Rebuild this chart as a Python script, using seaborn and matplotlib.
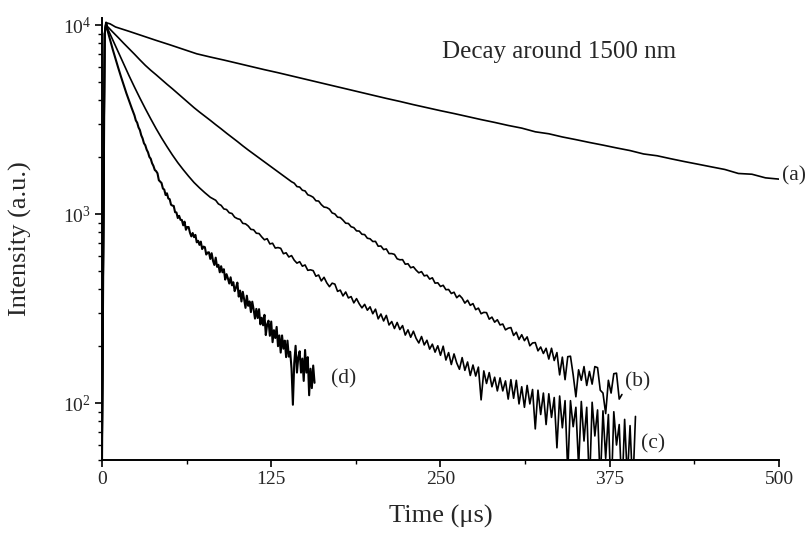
import matplotlib
matplotlib.use("Agg")
import matplotlib.pyplot as plt
import matplotlib.ticker as mticker
import numpy as np
import pandas as pd
import seaborn as sns

# ---------------- data ----------------
a_time = [0, 2, 3, 6, 10, 20, 30, 40, 50, 60, 70, 80, 90, 100, 110, 120, 130, 140, 150,
          160, 170, 180, 190, 200, 210, 220, 230, 240, 250, 260, 270, 280, 290, 300,
          310, 320, 330, 340, 350, 360, 370, 380, 390, 400, 410, 420, 430, 440, 450,
          460, 470, 480, 490, 500]
a_intensity = [45, 9000, 10300, 10150, 9772, 9268, 8770, 8299, 7870, 7447, 7047, 6776, 6531,
               6281, 6039, 5808, 5598, 5383, 5176, 4977, 4786, 4603, 4426, 4256, 4093, 3945,
               3793, 3656, 3524, 3404, 3281, 3162, 3055, 2944, 2850, 2725, 2660, 2559, 2477,
               2393, 2317, 2239, 2168, 2080, 2035, 1963, 1897, 1837, 1778, 1722, 1640, 1625,
               1555, 1531]

b_time = [0, 2, 3, 4, 8, 12, 16, 20, 24, 28, 32, 36, 40, 44, 48, 52, 56, 60, 64, 68, 72,
          76, 80, 84, 88, 92, 96, 100, 104, 108, 112, 116, 120, 124, 128, 132, 136, 140,
          142, 144, 146, 148, 150, 152, 154, 156, 158, 160, 162, 164, 166, 168, 170, 172,
          174, 176, 178, 180, 182, 184, 186, 188, 190, 192, 194, 196, 198, 200, 202, 204,
          206, 208, 210, 212, 214, 216, 218, 220, 222, 224, 226, 228, 230, 232, 234, 236,
          238, 240, 242, 244, 246, 248, 250, 252, 254, 256, 258, 260, 262, 264, 266, 268,
          270, 272, 274, 276, 278, 280, 282, 284, 286, 288, 290, 292, 294, 296, 298, 300,
          302, 304, 306, 308, 310, 312, 314, 316, 318, 320, 322, 324, 326, 328, 330, 332,
          334, 336, 338, 340, 342, 344, 346, 348, 350, 352, 354, 356, 358, 360, 362, 364,
          366, 368, 370, 372, 374, 376, 378, 380, 382, 384]
b_intensity = [45, 9000, 10300, 9840, 9183, 8590, 8017, 7499, 7015, 6546, 6124, 5768, 5458,
               5152, 4864, 4603, 4345, 4102, 3873, 3656, 3467, 3296, 3133, 2972, 2825, 2679,
               2547, 2421, 2296, 2183, 2080, 1982, 1888, 1799, 1714, 1633, 1556, 1483,
               1457, 1398, 1390, 1337, 1326, 1265, 1250, 1227, 1176, 1172,
               1122, 1089, 1083, 1062, 1014, 1002, 963, 959, 929, 895,
               892, 857, 848, 815, 813, 782, 779, 745, 740, 716,
               717, 676, 678, 649, 654, 618, 618, 612, 580, 573,
               574, 543, 546, 520, 526, 505, 489, 496, 471, 475,
               453, 460, 431, 433, 414, 420, 398, 399, 380, 386,
               361, 372, 359, 338, 350, 329, 336, 312, 318, 297,
               302, 301, 278, 285, 268, 276, 259, 262, 244, 249,
               251, 228, 237, 217, 230, 214, 224, 201, 208, 209,
               189, 198, 183, 195, 171, 195, 168, 185, 141, 175,
               133, 176, 177, 141, 108, 150, 132, 156, 124, 147,
               126, 156, 154, 117, 113, 88, 132, 113, 143, 144,
               105, 111]

c_time = [0, 2, 3, 4, 8, 12, 16, 20, 24, 28, 32, 36, 40, 44, 48, 52, 56, 60, 64, 68, 72,
          76, 80, 84, 86, 88, 90, 92, 94, 96, 98, 100, 102, 104, 106, 108, 110, 112, 114,
          116, 118, 120, 122, 124, 126, 128, 130, 132, 134, 136, 138, 140, 142, 144, 146,
          148, 150, 152, 154, 156, 158, 160, 162, 164, 166, 168, 170, 172, 174, 176, 178,
          180, 182, 184, 186, 188, 190, 192, 194, 196, 198, 200, 202, 204, 206, 208, 210,
          212, 214, 216, 218, 220, 222, 224, 226, 228, 230, 232, 234, 236, 238, 240, 242,
          244, 246, 248, 250, 252, 254, 256, 258, 260, 262, 264, 266, 268, 270, 272, 274,
          276, 278, 280, 282, 284, 286, 288, 290, 292, 294, 296, 298, 300, 302, 304, 306,
          308, 310, 312, 314, 316, 318, 320, 322, 324, 326, 328, 330, 332, 334, 336, 338,
          340, 342, 344, 346, 348, 350, 352, 354, 356, 358, 360, 362, 364, 366, 368, 370,
          372, 374, 376, 378, 380, 382, 384, 386, 388, 390, 392, 394]
c_intensity = [45, 9000, 10300, 9638, 8337, 7211, 6237, 5395, 4699, 4111, 3614, 3192, 2831,
               2529, 2275, 2056, 1871, 1718, 1585, 1469, 1377, 1297, 1227,
               1183, 1132, 1112, 1065, 1057, 1016, 1007, 963, 946, 937,
               893, 888, 865, 830, 826, 792, 789, 757, 731, 741,
               695, 701, 661, 665, 659, 617, 624, 593, 603, 570,
               550, 560, 530, 538, 504, 507, 502, 469, 476, 443,
               463, 433, 413, 431, 426, 390, 396, 369, 387, 360,
               366, 339, 357, 335, 319, 333, 310, 323, 297, 314,
               279, 296, 272, 291, 259, 270, 248, 267, 245, 257,
               229, 244, 223, 240, 220, 208, 225, 203, 215, 193,
               205, 186, 201, 179, 200, 169, 185, 160, 182, 163,
               151, 174, 149, 165, 140, 159, 139, 155, 104, 148,
               127, 145, 122, 137, 116, 136, 116, 131, 105, 133,
               106, 132, 99, 122, 95, 124, 99, 118, 73, 117,
               87, 113, 77, 112, 84, 107, 58, 109, 74, 103,
               43, 103, 75, 95, 46, 102, 63, 95, 35, 101,
               67, 92, 37, 91, 51, 87, 31, 90, 60, 77,
               33, 82, 40, 76, 35, 85]

d_time = [0, 2, 3, 4, 6, 8, 10, 12, 14, 16, 18, 20, 22,
          24, 25, 26, 27, 28, 29, 30, 31, 32, 33, 34, 35, 36, 37, 38, 39, 40, 41, 42, 43,
          44, 45, 46, 47, 48, 49, 50, 51, 52, 53, 54, 55, 56, 57, 58, 59, 60, 61, 62, 63,
          64, 65, 66, 67, 68, 69, 70, 71, 72, 73, 74, 75, 76, 77, 78, 79, 80, 81, 82, 83,
          84, 85, 86, 87, 88, 89, 90, 91, 92, 93, 94, 95, 96, 97, 98, 99, 100, 101, 102,
          103, 104, 105, 106, 107, 108, 109, 110, 111, 112, 113, 114, 115, 116, 117, 118,
          119, 120, 121, 122, 123, 124, 125, 126, 127, 128, 129, 130, 131, 132, 133, 134,
          135, 136, 137, 138, 139, 140, 141, 142, 143, 144, 145, 146, 147, 148, 149, 150,
          151, 152, 153, 154, 155, 156, 157]
d_intensity = [45, 9000, 10300, 9419, 8356, 7413, 6637, 5943, 5346, 4831, 4365, 3981, 3631,
               3327, 3130, 3045, 2874, 2783, 2612, 2515, 2371, 2312, 2193,
               2123, 2007, 1963, 1858, 1799, 1712, 1687, 1644, 1511, 1485,
               1460, 1365, 1348, 1262, 1288, 1209, 1200, 1121, 1109, 1104,
               1023, 1020, 953, 979, 932, 931, 872, 912, 826, 854,
               854, 796, 762, 794, 755, 776, 709, 722, 687, 715,
               653, 673, 668, 611, 626, 628, 579, 621, 566, 538,
               588, 526, 539, 492, 530, 492, 511, 450, 481, 457,
               429, 463, 420, 436, 391, 409, 434, 366, 394, 345,
               388, 354, 319, 370, 327, 345, 303, 344, 313, 280,
               315, 282, 314, 261, 283, 258, 293, 229, 261, 273,
               227, 270, 210, 243, 221, 253, 200, 228, 185, 228,
               194, 214, 175, 214, 176, 187, 152, 98, 163, 201,
               145, 175, 188, 145, 172, 131, 191, 145, 175, 110,
               152, 120, 158, 128]

curve_labels = ["(a)", "(b)", "(c)", "(d)"]
label_time = [502, 386, 398, 169]
label_intensity = [1596, 129, 61, 135]
title_text = "Decay around 1500 nm"
x_ticks = [0, 125, 250, 375, 500]

# ---------------- style ----------------
sns.set_style("ticks")
plt.rcParams["font.family"] = ["Liberation Serif", "DejaVu Serif"]
plt.rcParams["mathtext.fontset"] = "custom"
plt.rcParams["mathtext.rm"] = "Liberation Serif"
plt.rcParams["mathtext.it"] = "Liberation Serif:italic"

fig = plt.figure(figsize=(8.08, 5.39), dpi=100)
ax = fig.add_axes([0.1262, 0.1466, 0.8379, 0.8200])

curves = [(a_time, a_intensity, 1.2), (b_time, b_intensity, 1.2),
          (c_time, c_intensity, 1.2), (d_time, d_intensity, 1.5)]
for t, y, lw in curves:
    df = pd.DataFrame({"time": t, "intensity": y})
    sns.lineplot(data=df, x="time", y="intensity", ax=ax, color="black",
                 linewidth=lw, estimator=None, sort=False)

ax.set_yscale("log")
ax.set_xlim(0, 500)
ax.set_ylim(50, 10900)

ax.set_xticks(x_ticks)
ax.set_xticklabels([str(v) for v in x_ticks])
ax.xaxis.set_minor_locator(mticker.MultipleLocator(62.5))

ax.yaxis.set_major_locator(mticker.FixedLocator([100, 1000, 10000]))
ax.yaxis.set_major_formatter(mticker.FuncFormatter(
    lambda v, p: r"$\mathregular{10^{%d}}$" % int(round(np.log10(v)))))
ax.yaxis.set_minor_locator(mticker.LogLocator(base=10, subs=np.arange(2, 10), numticks=20))
ax.yaxis.set_minor_formatter(mticker.NullFormatter())

ax.tick_params(axis="both", which="major", direction="out", length=5, width=1.2,
               color="black", pad=3)
ax.tick_params(axis="both", which="minor", direction="out", length=3, width=1.0,
               color="black")
ax.tick_params(axis="x", labelsize=14)
ax.tick_params(axis="y", labelsize=14)

for s in ["top", "right"]:
    ax.spines[s].set_visible(False)
for s in ["left", "bottom"]:
    ax.spines[s].set_linewidth(1.4)
    ax.spines[s].set_color("black")

ax.set_xlabel("Time (\u03bcs)", fontsize=19, labelpad=12)
ax.set_ylabel("Intensity (a.u.)", fontsize=19, labelpad=22)

for lab, tx, ty in zip(curve_labels, label_time, label_intensity):
    ax.text(tx, ty, lab, fontsize=15.5, ha="left", va="center", clip_on=False)

ax.text(251, 6680, title_text, fontsize=18, ha="left", va="baseline")

fig.savefig("out.png", dpi=100)
